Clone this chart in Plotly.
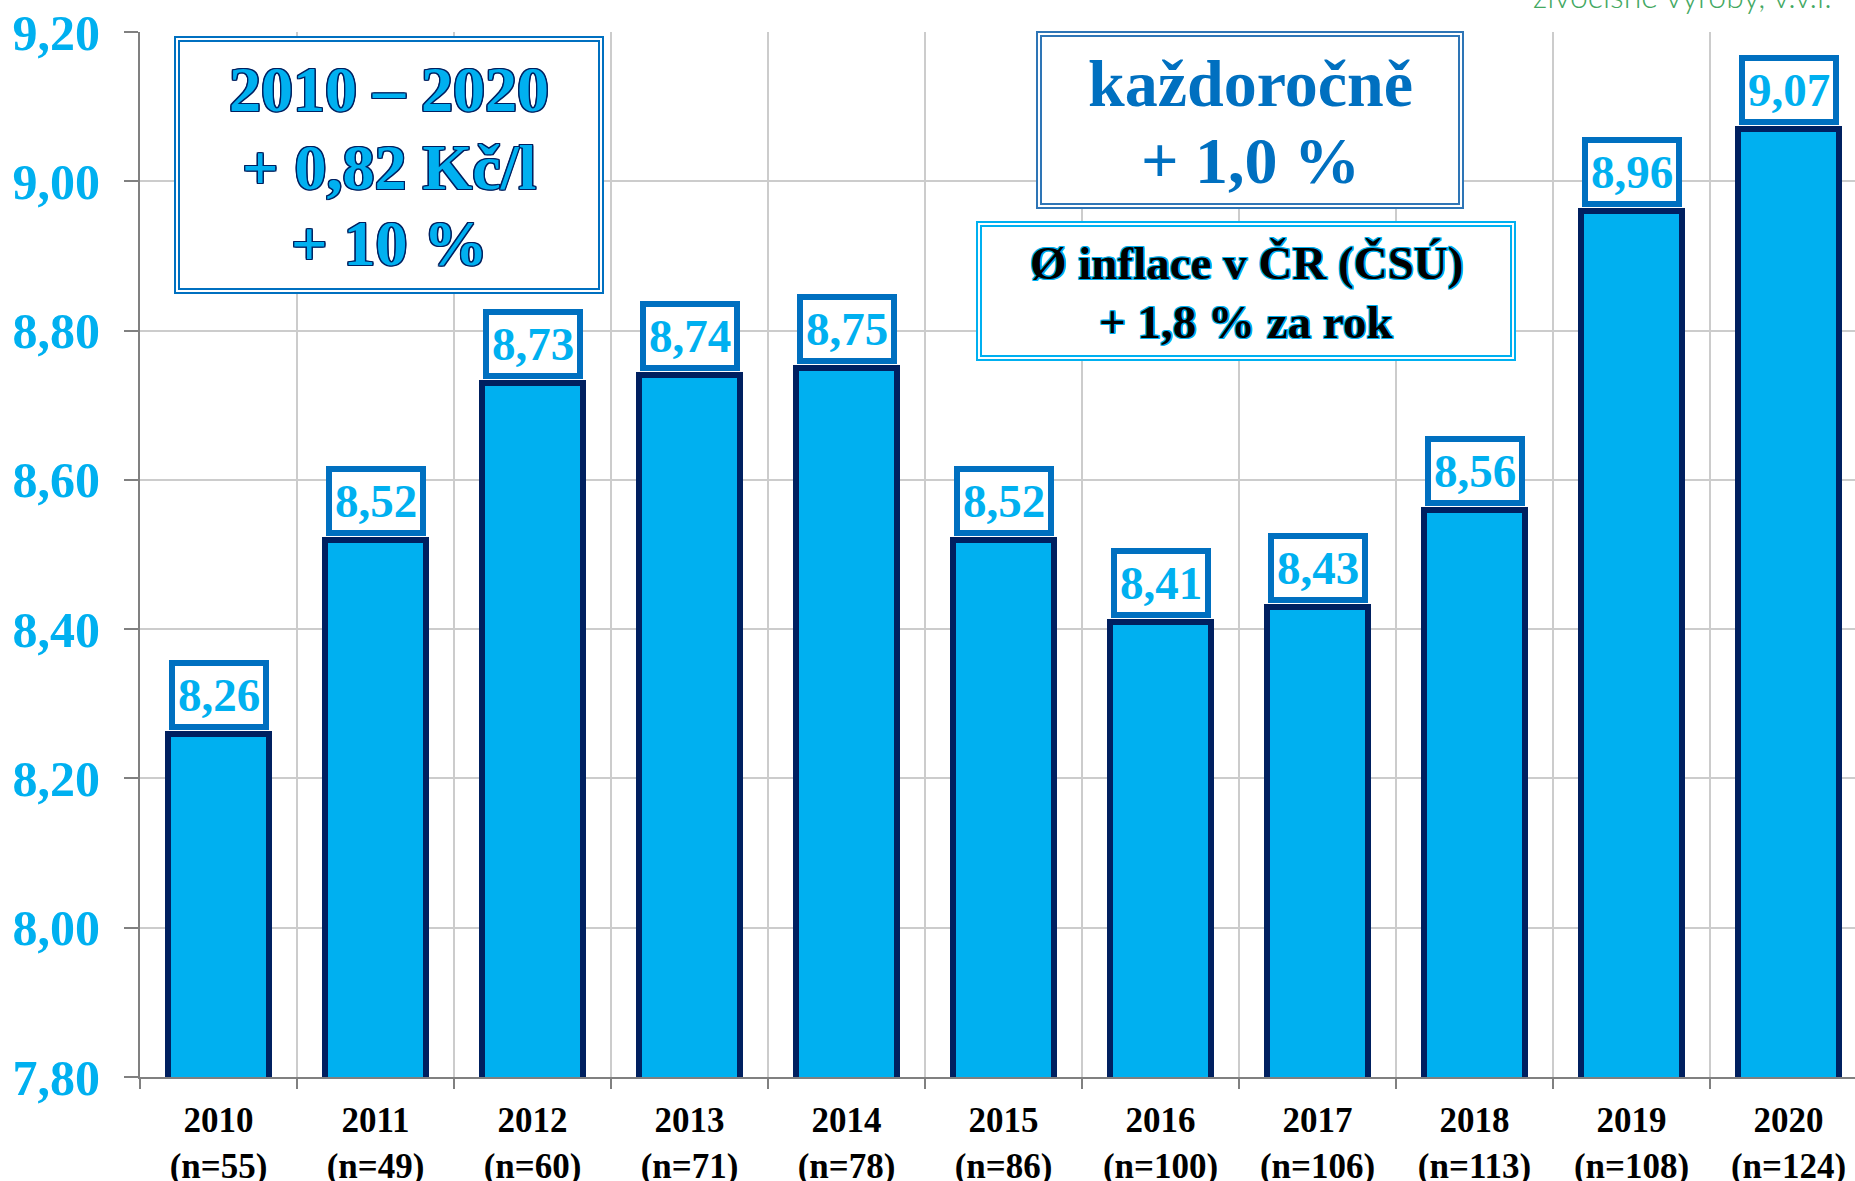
import plotly.graph_objects as go

years = ["2010", "2011", "2012", "2013", "2014", "2015", "2016", "2017", "2018", "2019", "2020"]
n_counts = [55, 49, 60, 71, 78, 86, 100, 106, 113, 108, 124]
prices = [8.26, 8.52, 8.73, 8.74, 8.75, 8.52, 8.41, 8.43, 8.56, 8.96, 9.07]
y_ticks = [7.8, 8.0, 8.2, 8.4, 8.6, 8.8, 9.0, 9.2]

box1_lines = ["2010 – 2020", "+ 0,82 Kč/l", "+ 10 %"]
box2_lines = ["každoročně", "+ 1,0 %"]
box3_lines = ["Ø inflace v ČR (ČSÚ)", "+ 1,8 % za rok"]
corner_text = "živočišné výroby, v.v.i."

W, H = 1855, 1181
ML, MR, MT, MB = 140, 0, 32, 104
PW, PH = W - ML - MR, H - MT - MB

def px(x):
    return (x - ML) / PW

def py(y):
    return (H - MB - y) / PH

SERIF = "Liberation Serif, Times New Roman, serif"
LIGHT = "#00B0F0"
MID = "#0070C0"
NAVY = "#002060"

def outline(color, d=1.2):
    offs = [(-d, -d), (d, -d), (-d, d), (d, d), (0, d), (0, -d), (d, 0), (-d, 0)]
    return ", ".join(f"{a}px {b}px 0 {color}" for a, b in offs)

x_idx = list(range(len(years)))
ticktext = [f"{y}<br>(n={n})" for y, n in zip(years, n_counts)]

fig = go.Figure()
fig.add_trace(go.Bar(
    x=x_idx, y=prices, width=0.645,
    marker=dict(color=LIGHT, line=dict(color=NAVY, width=6)),
    hoverinfo="skip",
))

annotations = []
for i, v in zip(x_idx, prices):
    annotations.append(dict(
        x=i, y=v, xref="x", yref="y", text=f"{v:.2f}".replace(".", ","),
        showarrow=False, yanchor="bottom", xanchor="center", yshift=4,
        font=dict(family=SERIF, size=47, color=LIGHT, weight="bold"),
        bgcolor="white", bordercolor=MID, borderwidth=6, borderpad=3,
    ))

for line, cy in zip(box1_lines, [89, 167, 243]):
    annotations.append(dict(
        x=px(389), y=py(cy), xref="paper", yref="paper", text=line,
        showarrow=False, xanchor="center", yanchor="middle",
        font=dict(family=SERIF, size=64, color=LIGHT, weight="bold", shadow=outline(NAVY, 1.2)),
    ))
for line, cy in zip(box2_lines, [83, 160]):
    annotations.append(dict(
        x=px(1250), y=py(cy), xref="paper", yref="paper", text=line,
        showarrow=False, xanchor="center", yanchor="middle",
        font=dict(family=SERIF, size=66, color=MID, weight="bold"),
    ))
for line, cy in zip(box3_lines, [263, 322]):
    annotations.append(dict(
        x=px(1246), y=py(cy), xref="paper", yref="paper", text=line,
        showarrow=False, xanchor="center", yanchor="middle",
        font=dict(family=SERIF, size=47, color="black", weight="bold", shadow=outline(LIGHT, 1.2)),
    ))
annotations.append(dict(
    x=px(1834), y=py(-4), xref="paper", yref="paper", text=corner_text,
    showarrow=False, xanchor="right", yanchor="middle",
    font=dict(family="Lato", size=32, color="#43A862", weight=300),
))

shapes = []
def double_box(x0, y0, x1, y1, color, gap=4, w=2):
    shapes.append(dict(type="rect", xref="paper", yref="paper",
                       x0=px(x0), x1=px(x1), y0=py(y1), y1=py(y0),
                       line=dict(color=color, width=w), fillcolor="white", layer="above"))
    shapes.append(dict(type="rect", xref="paper", yref="paper",
                       x0=px(x0 + gap), x1=px(x1 - gap), y0=py(y1 - gap), y1=py(y0 + gap),
                       line=dict(color=color, width=w), layer="above"))

double_box(175, 37, 603, 293, MID)
double_box(1037, 32, 1463, 208, "#2E75B6")
double_box(977, 222, 1515, 360, LIGHT)

fig.update_layout(
    width=W, height=H,
    margin=dict(l=ML, r=MR, t=MT, b=MB),
    paper_bgcolor="white", plot_bgcolor="white",
    separators=", ",
    showlegend=False,
    annotations=annotations,
    shapes=shapes,
    bargap=0,
    xaxis=dict(
        range=[-0.5, -0.5 + PW / 157.0],
        tickmode="array", tickvals=x_idx, ticktext=ticktext,
        ticks="", showgrid=False, automargin=False,
        showline=True, linecolor="#808080", linewidth=2,
        tickfont=dict(family=SERIF, size=35, color="black", weight="bold"),
        ticklabelstandoff=11,
        minor=dict(tickmode="linear", tick0=-0.5, dtick=1, showgrid=True,
                   gridcolor="#CCCCCC", gridwidth=2, ticks="outside", ticklen=10,
                   tickcolor="#808080", tickwidth=2),
        zeroline=False, fixedrange=True,
    ),
    yaxis=dict(
        range=[7.8, 9.2], tickmode="array", tickvals=y_ticks, tickformat=".2f",
        showgrid=True, gridcolor="#CCCCCC", gridwidth=2, automargin=False,
        showline=True, linecolor="#808080", linewidth=2,
        ticks="outside", ticklen=14, tickcolor="#808080", tickwidth=2,
        tickfont=dict(family=SERIF, size=50, color=LIGHT, weight="bold"),
        ticklabelstandoff=14,
        zeroline=False, fixedrange=True,
    ),
)

fig.write_html("out.html", config={"displayModeBar": False},
               post_script="document.body.style.margin='0px';document.body.style.overflow='hidden';")
